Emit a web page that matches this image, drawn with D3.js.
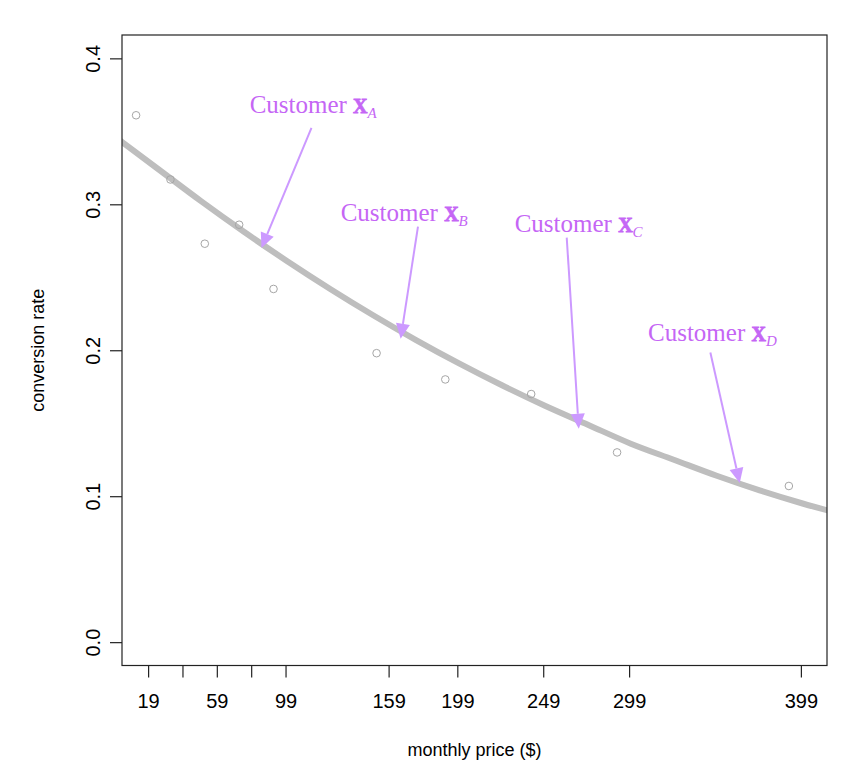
<!DOCTYPE html>
<html>
<head>
<meta charset="utf-8">
<script src="https://cdn.jsdelivr.net/npm/d3@7"></script>
<style>
  html, body { margin: 0; padding: 0; background: #fff; }
  svg { display: block; }
</style>
</head>
<body>
<svg id="chart" width="864" height="778"></svg>
<script>
// ---- data ----
const xTicks = [19, 39, 59, 79, 99, 159, 199, 249, 299, 399];
const xTickLabels = ["19", "", "59", "", "99", "159", "199", "249", "299", "399"];
const yTicks = [0, 0.1, 0.2, 0.3, 0.4];
const yTickLabels = ["0.0", "0.1", "0.2", "0.3", "0.4"];

// observed points (price, conversion rate)
const pointPrice = [12, 32, 52, 72, 92, 152, 192, 242, 292, 392];
const pointRate = [0.361, 0.317, 0.273, 0.286, 0.242, 0.198, 0.180, 0.170, 0.130, 0.107];

// fitted curve
const curvePrice = [0, 25, 50, 75, 100, 125, 150, 175, 200, 225, 250, 275, 300, 325, 350, 375, 400, 425];
const curveRate = [0.346, 0.324, 0.302, 0.281, 0.261, 0.242, 0.224, 0.207, 0.191, 0.176, 0.162, 0.149, 0.136, 0.125, 0.114, 0.104, 0.095, 0.087];

// annotations (data coordinates)
const annSub = ["A", "B", "C", "D"];
const annTextX = [78.1, 131.1, 232.4, 310.0];
const annTextY = [0.3625, 0.2888, 0.2811, 0.2061];
const arrowFromX = [114.1, 176.1, 262.7, 346.3];
const arrowFromY = [0.3524, 0.2847, 0.2772, 0.1985];
const arrowToX = [85.0, 166.0, 269.7, 363.4];
const arrowToY = [0.2701, 0.2079, 0.1462, 0.1090];

// ---- layout ----
const svg = d3.select("#chart");
const L = 122, R = 827, T = 35, B = 665.5;
const x = d3.scaleLinear().domain([19 - 0.04 * 380, 399 + 0.04 * 380]).range([L, R]);
const y = d3.scaleLinear().domain([0 - 0.016, 0.4 + 0.016]).range([B, T]);

svg.append("defs").append("clipPath").attr("id", "clip")
  .append("rect").attr("x", L).attr("y", T).attr("width", R - L).attr("height", B - T);

// curve
const curveData = curvePrice.map((p, i) => [p, curveRate[i]]);
svg.append("path")
  .attr("clip-path", "url(#clip)")
  .attr("d", d3.line().x(d => x(d[0])).y(d => y(d[1])).curve(d3.curveMonotoneX)(curveData))
  .attr("fill", "none")
  .attr("stroke", "#bebebe")
  .attr("stroke-width", 6)
  .attr("stroke-linecap", "round");

// points
svg.append("g").selectAll("circle")
  .data(pointPrice.map((p, i) => [p, pointRate[i]]))
  .join("circle")
  .attr("cx", d => x(d[0]))
  .attr("cy", d => y(d[1]))
  .attr("r", 3.8)
  .attr("fill", "none")
  .attr("stroke", "#a6a6a6")
  .attr("stroke-width", 1);

// frame
svg.append("rect")
  .attr("x", L).attr("y", T).attr("width", R - L).attr("height", B - T)
  .attr("fill", "none").attr("stroke", "#222").attr("stroke-width", 1.2);

// x axis
const xAxis = d3.axisBottom(x).tickValues(xTicks)
  .tickFormat((d, i) => xTickLabels[i]).tickSize(12).tickPadding(16);
const gx = svg.append("g").attr("transform", `translate(0,${B})`).call(xAxis);
gx.select(".domain").remove();
gx.selectAll(".tick line").attr("stroke", "#222").attr("stroke-width", 1.2);
gx.selectAll(".tick text").attr("fill", "#000")
  .style("font-family", "'Liberation Sans', Arial, sans-serif").style("font-size", "20px");

// y axis
const yAxis = d3.axisLeft(y).tickValues(yTicks)
  .tickFormat((d, i) => yTickLabels[i]).tickSize(12).tickPadding(0);
const gy = svg.append("g").attr("transform", `translate(${L},0)`).call(yAxis);
gy.select(".domain").remove();
gy.selectAll(".tick line").attr("stroke", "#222").attr("stroke-width", 1.2);
gy.selectAll(".tick text")
  .attr("x", null).attr("dy", null)
  .attr("text-anchor", "middle")
  .attr("transform", "translate(-29,0) rotate(-90)")
  .attr("dy", "0.35em")
  .attr("fill", "#000")
  .style("font-family", "'Liberation Sans', Arial, sans-serif").style("font-size", "20px");

// axis titles
svg.append("text")
  .attr("x", (L + R) / 2).attr("y", 756)
  .attr("text-anchor", "middle")
  .style("font-family", "'Liberation Sans', Arial, sans-serif").style("font-size", "18px")
  .text("monthly price ($)");
svg.append("text")
  .attr("transform", `translate(44,${(T + B) / 2}) rotate(-90)`)
  .attr("text-anchor", "middle")
  .style("font-family", "'Liberation Sans', Arial, sans-serif").style("font-size", "18px")
  .text("conversion rate");

// annotation arrows
const arrowCol = "#cc99ff";
const textCol = "#c566f5";
const ag = svg.append("g");
annSub.forEach((s, i) => {
  const x1 = x(arrowFromX[i]), y1 = y(arrowFromY[i]);
  const x2 = x(arrowToX[i]), y2 = y(arrowToY[i]);
  const ang = Math.atan2(y2 - y1, x2 - x1);
  const len = 15, hw = 7;
  const bx = x2 - len * Math.cos(ang), by = y2 - len * Math.sin(ang);
  ag.append("line")
    .attr("x1", x1).attr("y1", y1).attr("x2", bx).attr("y2", by)
    .attr("stroke", arrowCol).attr("stroke-width", 2);
  const px = -Math.sin(ang) * hw, py = Math.cos(ang) * hw;
  ag.append("path")
    .attr("d", `M${x2},${y2}L${bx + px},${by + py}L${bx - px},${by - py}Z`)
    .attr("fill", arrowCol);

  const t = ag.append("text")
    .attr("x", x(annTextX[i])).attr("y", y(annTextY[i]))
    .attr("fill", textCol)
    .style("font-family", "'Liberation Serif', 'Times New Roman', serif")
    .style("font-size", "25px");
  t.append("tspan").text("Customer ");
  t.append("tspan")
    .attr("font-weight", "700").style("font-weight", "700")
    .attr("stroke", textCol).attr("stroke-width", 0.8)
    .style("font-size", "20px").text("X");
  t.append("tspan").style("font-style", "italic").style("font-size", "15px")
    .attr("dy", 5).text(s);
});
</script>
</body>
</html>
